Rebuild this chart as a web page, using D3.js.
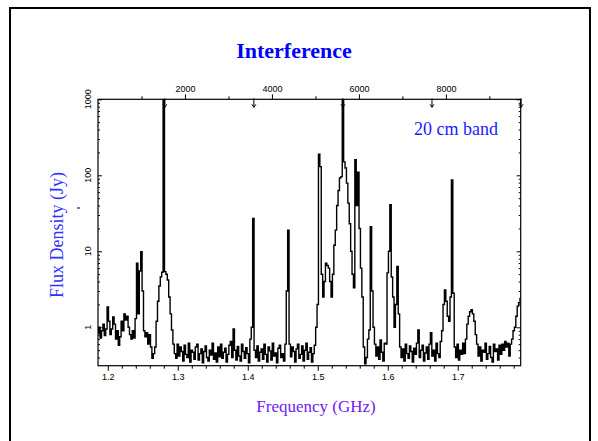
<!DOCTYPE html>
<html>
<head>
<meta charset="utf-8">
<script src="https://cdn.jsdelivr.net/npm/d3@7"></script>
<style>
  body { margin: 0; background: #fff; }
  svg { display: block; }
</style>
</head>
<body>
<script>
// spectrum sampled on a regular grid of 0.002 GHz starting at 1.186 GHz
const freqStart = 1.186;
const freqStep = 0.002;
const flux = [
  0.84, 1.0, 0.72, 0.9, 1.1, 0.78, 0.95, 1.85, 1.2, 0.8,
  0.95, 1.37, 1.1, 0.7, 0.9, 0.58, 0.75, 1.2, 0.9, 1.5,
  1.25, 1.4, 1.0, 0.8, 0.7, 0.9, 0.72, 1.3, 7.0, 1.5,
  5.5, 9.9, 3.0, 0.9, 0.75, 0.85, 0.6, 0.8, 0.55, 0.39,
  0.45, 0.55, 1.2, 2.2, 3.5, 4.6, 5.3, 1200, 5.4, 5.0,
  4.2, 2.5, 1.5, 0.92, 0.6, 0.45, 0.39, 0.6, 0.42, 0.55,
  0.48, 0.36, 0.58, 0.44, 0.4, 0.62, 0.35, 0.5, 0.47, 0.38,
  0.55, 0.6, 0.37, 0.45, 0.52, 0.34, 0.48, 0.57, 0.4, 0.36,
  0.5, 0.43, 0.62, 0.38, 0.46, 0.35, 0.55, 0.41, 0.6, 0.39,
  0.47, 0.53, 0.35, 0.44, 0.58, 0.65, 0.4, 0.95, 0.5, 0.37,
  0.56, 0.42, 0.36, 0.6, 0.48, 0.39, 0.54, 0.45, 0.34, 0.7,
  1.0, 27, 0.5, 0.4, 0.57, 0.36, 0.47, 0.52, 0.38, 0.6,
  0.44, 0.35, 0.55, 0.49, 0.37, 0.62, 0.42, 0.46, 0.34, 0.53,
  0.58, 0.4, 0.45, 0.36, 0.6, 3.0, 19, 0.6, 0.41, 0.55,
  0.48, 0.35, 0.52, 0.6, 0.39, 0.44, 0.57, 0.36, 0.5, 0.62,
  0.38, 0.47, 0.54, 0.35, 0.45, 0.58, 1.0, 2.0, 190, 130,
  5.0, 2.5, 4.0, 7.0, 6.5, 6.0, 4.0, 2.5, 5.0, 12,
  19, 40, 63, 92, 96, 1200, 150, 125, 79, 43,
  23, 10, 5, 3.3, 160, 40, 110, 20, 6, 2.5,
  0.55, 0.33, 0.4, 0.7, 0.92, 21, 3.0, 1.0, 0.6, 0.42,
  0.55, 0.38, 0.68, 0.47, 0.36, 0.62, 0.6, 5.2, 10, 41,
  4.6, 2.5, 1.0, 2.0, 6.3, 1.5, 0.55, 0.4, 0.52, 0.36,
  0.6, 0.45, 0.39, 0.57, 0.48, 0.35, 0.53, 0.44, 0.62, 0.92,
  0.4, 0.5, 0.58, 0.36, 0.46, 0.55, 0.38, 0.6, 0.85, 0.42,
  0.5, 0.36, 0.62, 0.45, 0.4, 0.65, 0.9, 2.0, 3.1, 2.2,
  1.4, 1.2, 2.5, 87, 2.8, 0.55, 0.4, 0.6, 0.37, 0.5,
  0.44, 0.62, 0.45, 0.7, 1.1, 1.4, 1.6, 1.7, 1.5, 1.2,
  0.8, 0.6, 0.42, 0.55, 0.36, 0.5, 0.47, 0.62, 0.38, 0.45,
  0.56, 0.4, 0.35, 0.6, 0.48, 0.52, 0.37, 0.58, 0.44, 0.6,
  0.5, 0.65, 0.55, 0.62, 0.42, 0.6, 0.7, 0.9, 1.0, 1.4,
  1.9, 2.1, 2.4
];

const freqTicks = [1.2, 1.3, 1.4, 1.5, 1.6, 1.7];
const freqMinor = [1.22, 1.24, 1.26, 1.28, 1.32, 1.34, 1.36, 1.38, 1.42, 1.44, 1.46, 1.48,
  1.52, 1.54, 1.56, 1.58, 1.62, 1.64, 1.66, 1.68, 1.72, 1.74, 1.76, 1.78];
const chanTicks = [2000, 4000, 6000, 8000];
const chanMinor = [1000, 3000, 5000, 7000, 9000];
const chanMarks = [1536, 3584, 5632, 7680, 9728];
const fluxTicks = [1, 10, 100, 1000];
const fluxMinor = [0.4, 0.5, 0.6, 0.7, 0.8, 0.9, 2, 3, 4, 5, 6, 7, 8, 9,
  20, 30, 40, 50, 60, 70, 80, 90, 200, 300, 400, 500, 600, 700, 800, 900];

const W = 598, H = 441;
const box = { left: 98, right: 520.7, top: 99.3, bottom: 365.7 };

const svg = d3.select("body").append("svg")
  .attr("width", W)
  .attr("height", H);

// slide frame
svg.append("rect")
  .attr("x", 10).attr("y", 8)
  .attr("width", 580).attr("height", 450)
  .attr("fill", "none")
  .attr("stroke", "#000")
  .attr("stroke-width", 2);

svg.append("text")
  .attr("x", 294).attr("y", 58)
  .attr("text-anchor", "middle")
  .attr("font-family", "Liberation Serif, Times New Roman, serif")
  .attr("font-weight", "bold")
  .attr("font-size", 22)
  .attr("fill", "#0000ff")
  .text("Interference");

let x = d3.scaleLinear().domain([1.186, 1.790]).range([box.left, box.right]);
let ch = d3.scaleLinear().domain([0, 9720]).range([box.left, box.right]);
let y = d3.scaleLog().domain([0.3125, 1000]).range([box.bottom, box.top]);

const tickFont = "Liberation Sans, Arial, sans-serif";

function styleAxis(g) {
  g.select(".domain").remove();
  g.selectAll("line").attr("stroke", "#000");
  g.selectAll("text").attr("font-family", tickFont).attr("font-size", 9).attr("fill", "#000");
}

// bottom axis (frequency)
svg.append("g").attr("transform", "translate(0," + box.bottom + ")")
  .call(d3.axisBottom(x).tickValues(freqTicks).tickSize(5).tickPadding(3).tickFormat(d3.format(".1f")))
  .call(styleAxis);
svg.append("g").attr("transform", "translate(0," + box.bottom + ")")
  .call(d3.axisBottom(x).tickValues(freqMinor).tickSize(3).tickFormat(""))
  .call(styleAxis);

// top axis (channel)
svg.append("g").attr("transform", "translate(0," + box.top + ")")
  .call(d3.axisTop(ch).tickValues(chanTicks).tickSize(5).tickPadding(2).tickFormat(d3.format("d")))
  .call(styleAxis);
svg.append("g").attr("transform", "translate(0," + box.top + ")")
  .call(d3.axisTop(ch).tickValues(chanMinor).tickSize(3).tickFormat(""))
  .call(styleAxis);

// left & right log axes, ticks pointing inward
svg.append("g").attr("transform", "translate(" + box.left + ",0)")
  .call(d3.axisRight(y).tickValues(fluxTicks).tickSize(4).tickFormat(""))
  .call(styleAxis);
svg.append("g").attr("transform", "translate(" + box.left + ",0)")
  .call(d3.axisRight(y).tickValues(fluxMinor).tickSize(2).tickFormat(""))
  .call(styleAxis);
svg.append("g").attr("transform", "translate(" + box.right + ",0)")
  .call(d3.axisLeft(y).tickValues(fluxTicks).tickSize(4).tickFormat(""))
  .call(styleAxis);
svg.append("g").attr("transform", "translate(" + box.right + ",0)")
  .call(d3.axisLeft(y).tickValues(fluxMinor).tickSize(2).tickFormat(""))
  .call(styleAxis);

// rotated labels on the left
svg.append("g").selectAll("text")
  .data(fluxTicks)
  .enter()
  .append("text")
  .attr("transform", d => "translate(91," + y(d) + ") rotate(-90)")
  .attr("text-anchor", "middle")
  .attr("font-family", tickFont)
  .attr("font-size", 9)
  .text(d => d);

// stray dash beside the axis
svg.append("line")
  .attr("x1", 77).attr("x2", 80)
  .attr("y1", 208).attr("y2", 208)
  .attr("stroke", "#000");

// channel boundary markers below top axis
let marks = svg.append("g");
marks.selectAll("line")
  .data(chanMarks)
  .enter()
  .append("line")
  .attr("x1", d => ch(d)).attr("x2", d => ch(d))
  .attr("y1", box.top - 1).attr("y2", box.top + 8)
  .attr("stroke", "#000");
marks.selectAll("path")
  .data(chanMarks)
  .enter()
  .append("path")
  .attr("d", d => "M" + (ch(d) - 2) + "," + (box.top + 5) + "L" + ch(d) + "," + (box.top + 8) + "L" + (ch(d) + 2) + "," + (box.top + 5))
  .attr("fill", "none")
  .attr("stroke", "#000");

// plot box
svg.append("rect")
  .attr("x", box.left).attr("y", box.top)
  .attr("width", box.right - box.left).attr("height", box.bottom - box.top)
  .attr("fill", "none")
  .attr("stroke", "#000")
  .attr("stroke-width", 1.2);

svg.append("clipPath").attr("id", "plotclip")
  .append("rect")
  .attr("x", box.left).attr("y", box.top)
  .attr("width", box.right - box.left).attr("height", box.bottom - box.top);

let line = d3.line()
  .x((d, i) => x(freqStart + i * freqStep))
  .y(d => y(Math.max(d, 0.3)))
  .curve(d3.curveStep);

svg.append("path")
  .datum(flux)
  .attr("clip-path", "url(#plotclip)")
  .attr("d", line)
  .attr("fill", "none")
  .attr("stroke", "#000")
  .attr("stroke-width", 1.4);

svg.append("text")
  .attr("x", 456).attr("y", 135)
  .attr("text-anchor", "middle")
  .attr("font-family", "Liberation Serif, Times New Roman, serif")
  .attr("font-size", 18)
  .attr("fill", "#1a1aff")
  .text("20 cm band");

svg.append("text")
  .attr("transform", "translate(63,235) rotate(-90)")
  .attr("text-anchor", "middle")
  .attr("font-family", "Liberation Serif, Times New Roman, serif")
  .attr("font-size", 18)
  .attr("fill", "#3030ff")
  .text("Flux Density (Jy)");

svg.append("text")
  .attr("x", 316).attr("y", 412)
  .attr("text-anchor", "middle")
  .attr("font-family", "Liberation Serif, Times New Roman, serif")
  .attr("font-size", 17)
  .attr("fill", "#7020f0")
  .text("Frequency (GHz)");
</script>
</body>
</html>
